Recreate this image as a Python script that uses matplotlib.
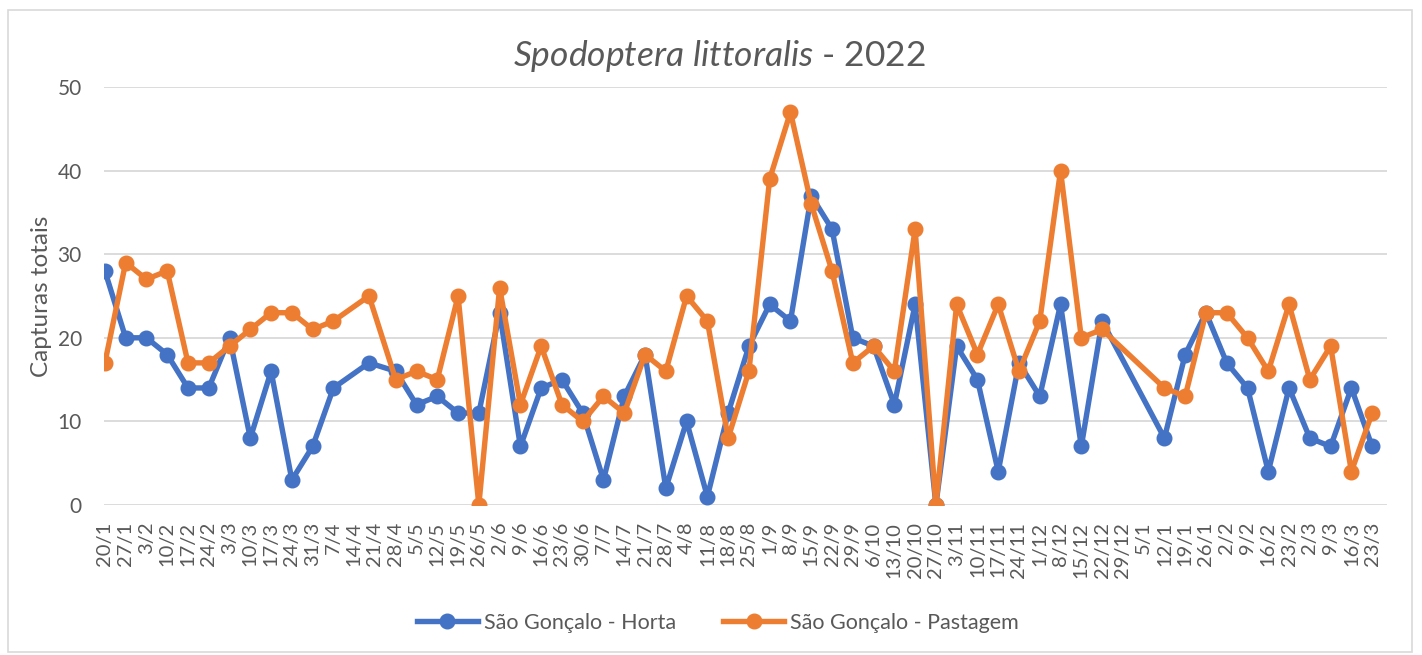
import matplotlib
matplotlib.use("Agg")
import matplotlib.pyplot as plt
import matplotlib.dates as mdates
from matplotlib.patches import Rectangle
from matplotlib.ticker import FuncFormatter, FixedLocator
import datetime as dt

# sampling dates (weekly, a few weeks missing, one sample taken on 19/4)
sample_dates = [
    "2022-01-20", "2022-01-27", "2022-02-03", "2022-02-10", "2022-02-17", "2022-02-24",
    "2022-03-03", "2022-03-10", "2022-03-17", "2022-03-24", "2022-03-31", "2022-04-07",
    "2022-04-19", "2022-04-28", "2022-05-05", "2022-05-12", "2022-05-19", "2022-05-26",
    "2022-06-02", "2022-06-09", "2022-06-16", "2022-06-23", "2022-06-30", "2022-07-07",
    "2022-07-14", "2022-07-21", "2022-07-28", "2022-08-04", "2022-08-11", "2022-08-18",
    "2022-08-25", "2022-09-01", "2022-09-08", "2022-09-15", "2022-09-22", "2022-09-29",
    "2022-10-06", "2022-10-13", "2022-10-20", "2022-10-27", "2022-11-03", "2022-11-10",
    "2022-11-17", "2022-11-24", "2022-12-01", "2022-12-08", "2022-12-15", "2022-12-22",
    "2023-01-12", "2023-01-19", "2023-01-26", "2023-02-02", "2023-02-09", "2023-02-16",
    "2023-02-23", "2023-03-02", "2023-03-09", "2023-03-16", "2023-03-23",
]

horta = [28, 20, 20, 18, 14, 14, 20, 8, 16, 3, 7, 14,
         17,
         16, 12, 13, 11, 11, 23, 7, 14, 15, 11, 3, 13, 18, 2, 10, 1, 11, 19, 24, 22,
         37, 33, 20, 19, 12, 24, 0, 19, 15, 4, 17, 13, 24, 7, 22,
         8, 18, 23, 17, 14, 4, 14, 8, 7, 14, 7]

pastagem = [17, 29, 27, 28, 17, 17, 19, 21, 23, 23, 21, 22,
            25,
            15, 16, 15, 25, 0, 26, 12, 19, 12, 10, 13, 11, 18, 16, 25, 22, 8, 16, 39, 47,
            36, 28, 17, 19, 16, 33, 0, 24, 18, 24, 16, 22, 40, 20, 21,
            14, 13, 23, 23, 20, 16, 24, 15, 19, 4, 11]

series_names = ["São Gonçalo - Horta", "São Gonçalo - Pastagem"]
title_year = "2022"
y_label = "Capturas totais"

# weekly tick labels from 20/1/2022 to 23/3/2023
first_tick = dt.date(2022, 1, 20)
tick_dates = [first_tick + dt.timedelta(days=7 * i) for i in range(62)]

BLUE = "#4472C4"
ORANGE = "#ED7D31"
GREY = "#595959"
GRID = "#D9D9D9"

plt.rcParams["font.family"] = ["Lato", "DejaVu Sans"]
plt.rcParams["mathtext.fontset"] = "custom"
plt.rcParams["mathtext.it"] = "Lato:italic"
plt.rcParams["mathtext.rm"] = "Lato"

fig = plt.figure(figsize=(14.22, 6.55), dpi=100)
ax = fig.add_axes([104 / 1422, 150 / 655, 1283 / 1422, 418 / 655])

x = [dt.date.fromisoformat(d) for d in sample_dates]

ax.plot(x, horta, color=BLUE, lw=3.9, marker="o", ms=10.5, label=series_names[0],
        solid_joinstyle="round", zorder=3)
ax.plot(x, pastagem, color=ORANGE, lw=3.9, marker="o", ms=10.5, label=series_names[1],
        solid_joinstyle="round", zorder=4)

ax.set_ylim(0, 50)
ax.set_yticks(range(0, 51, 10))
ax.set_xlim(mdates.date2num(first_tick) - 0.3, mdates.date2num(tick_dates[-1]) + 5)
ax.xaxis.set_major_locator(FixedLocator([mdates.date2num(d) for d in tick_dates]))
ax.xaxis.set_major_formatter(FuncFormatter(
    lambda v, pos: "%d/%d" % (mdates.num2date(v).day, mdates.num2date(v).month)))

ax.grid(axis="y", color=GRID, lw=1.3)
ax.set_axisbelow(True)
for s in ax.spines.values():
    s.set_visible(False)
ax.tick_params(axis="both", length=0, colors=GREY)
ax.tick_params(axis="x", rotation=90, pad=12, labelsize=14.5)
ax.tick_params(axis="y", pad=16, labelsize=15)

ax.set_ylabel(y_label, fontsize=17.5, color=GREY, labelpad=4)

fig.text(0.506, 0.915, r"$\it{Spodoptera\ littoralis}$ - " + title_year,
         ha="center", va="center", fontsize=25.5, color=GREY)

fig.legend(loc="center", bbox_to_anchor=(0.505, 0.049), ncol=2, frameon=False,
           fontsize=15.5, labelcolor=GREY, handlelength=2.8, columnspacing=2.2,
           handletextpad=0.3)

fig.patches.append(Rectangle((8 / 1422, 3 / 655), 1404 / 1422, 642 / 655,
                             transform=fig.transFigure, fill=False,
                             edgecolor=GRID, lw=1.2))

fig.savefig("out.png", dpi=100)
